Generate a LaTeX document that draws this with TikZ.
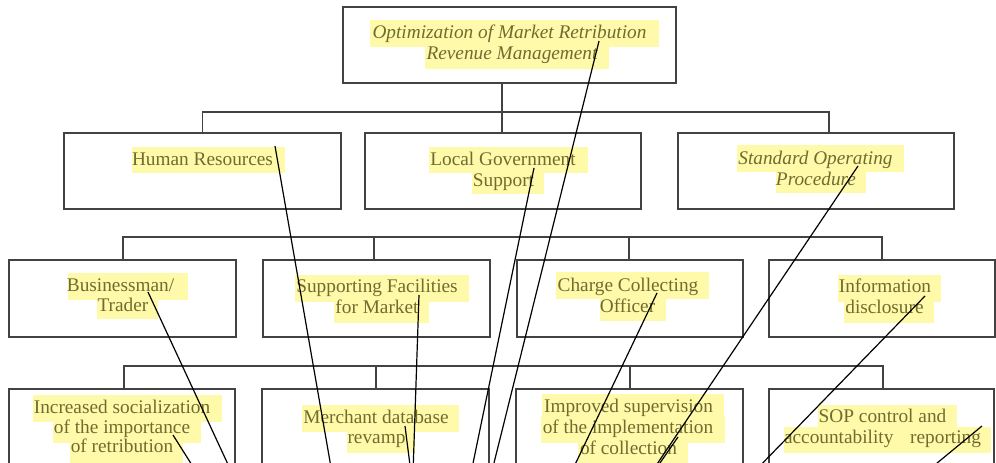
\documentclass[tikz,border=0pt]{standalone}
\usepackage{fontspec}
\setmainfont{Liberation Serif}
\definecolor{hl}{RGB}{255,249,170}
\definecolor{ink}{RGB}{112,108,48}
\definecolor{frame}{RGB}{66,66,66}
\tikzset{
  box/.style={draw=frame, line width=1.8pt, rectangle, inner sep=0pt, outer sep=0pt},
  bus/.style={draw=frame, line width=1.8pt},
  txt/.style={anchor=base, inner sep=0pt, text=ink, font=\fontsize{19.3pt}{21pt}\selectfont},
  itxt/.style={txt, font=\fontsize{19.3pt}{21pt}\selectfont\itshape},
  hlband/.style={fill=hl},
  callout/.style={draw=black, line width=1.2pt},
}
\begin{document}
\begin{tikzpicture}[x=1pt, y=-1pt]
\useasboundingbox (0,0) rectangle (996,463);
\clip (0,0) rectangle (996,463);

% ---------- highlight bands behind the text lines ----------
\fill[hlband] (370,20) rectangle (659,47);
\fill[hlband] (425,42) rectangle (609,69);
\fill[hlband] (132,147) rectangle (285,173);
\fill[hlband] (429,147) rectangle (588,173);
\fill[hlband] (472,167) rectangle (544,194);
\fill[hlband] (737,145) rectangle (904,172);
\fill[hlband] (776,167) rectangle (866,193);
\fill[hlband] (68,273) rectangle (188,300);
\fill[hlband] (97,293) rectangle (158,319);
\fill[hlband] (295,275) rectangle (469,302);
\fill[hlband] (334,295) rectangle (429,323);
\fill[hlband] (556,272) rectangle (709,299);
\fill[hlband] (600,294) rectangle (666,321);
\fill[hlband] (838,275) rectangle (941,302);
\fill[hlband] (844,296) rectangle (934,323);
\fill[hlband] (33,395) rectangle (222,422);
\fill[hlband] (53,416) rectangle (201,443);
\fill[hlband] (70,437) rectangle (183,470);
\fill[hlband] (302,405) rectangle (459,432);
\fill[hlband] (347,427) rectangle (415,453);
\fill[hlband] (542,394) rectangle (724,420);
\fill[hlband] (541,416) rectangle (725,443);
\fill[hlband] (578,437) rectangle (688,470);
\fill[hlband] (818,405) rectangle (957,432);
\fill[hlband] (784,427) rectangle (991,453);

% ---------- boxes ----------
\node[box, minimum width=333pt, minimum height=76pt] (title) at (509.5,45) {};
\node[box, minimum width=277pt, minimum height=76pt] (hr)  at (202.5,171) {};
\node[box, minimum width=276pt, minimum height=76pt] (lg)  at (503,171) {};
\node[box, minimum width=276pt, minimum height=76pt] (sop) at (816,171) {};
\node[box, minimum width=227pt, minimum height=77pt] (biz)  at (122.5,298.5) {};
\node[box, minimum width=227pt, minimum height=77pt] (sup)  at (376.5,298.5) {};
\node[box, minimum width=226pt, minimum height=77pt] (chg)  at (630,298.5) {};
\node[box, minimum width=226pt, minimum height=77pt] (info) at (882,298.5) {};
\node[box, minimum width=226pt, minimum height=77pt] (inc) at (122,427.5) {};
\node[box, minimum width=227pt, minimum height=77pt] (mer) at (375.5,427.5) {};
\node[box, minimum width=227pt, minimum height=77pt] (imp) at (629.5,427.5) {};
\node[box, minimum width=225pt, minimum height=77pt] (ctl) at (881.5,427.5) {};

% ---------- tree connectors ----------
\draw[bus] (hr.north) -- ++(0,-21) coordinate (busA) -| ([xshift=13pt]sop.north);
\draw[bus] ([xshift=-1pt]lg.north) -- ([xshift=-1pt]lg.north |- title.south);
\draw[bus] ([xshift=0.5pt]biz.north) -- ++(0,-23) coordinate (busB) -| (info.north);
\draw[bus] ([xshift=-2.5pt]sup.north) -- ([xshift=-2.5pt]sup.north |- busB);
\draw[bus] ([xshift=-1pt]chg.north) -- ([xshift=-1pt]chg.north |- busB);
\draw[bus] ([xshift=2pt]inc.north) -- ++(0,-23) coordinate (busC) -| ([xshift=1.5pt]ctl.north);
\draw[bus] ([xshift=0.5pt]mer.north) -- ([xshift=0.5pt]mer.north |- busC);
\draw[bus] ([xshift=0.5pt]imp.north) -- ([xshift=0.5pt]imp.north |- busC);

% ---------- text ----------
\node[itxt] (t1a) at (509.5,38) {Optimization of Market Retribution};
\node[itxt] (t1b) at (512,59) {Revenue Management};
\node[txt] (t2) at (202.5,165) {Human Resources};
\node[txt] (t3a) at (503,165) {Local Government};
\node[txt] (t3b) at (503.5,186) {Support};
\node[itxt] (t4a) at (815.5,164) {Standard Operating};
\node[itxt] (t4b) at (816,185) {Procedure};
\node[txt] (t5a) at (120.5,291) {Businessman/};
\node[txt] (t5b) at (123,311) {Trader};
\node[txt] (t6a) at (377,292) {Supporting Facilities};
\node[txt] (t6b) at (377,313) {for Market};
\node[txt] (t7a) at (628,291) {Charge Collecting};
\node[txt] (t7b) at (627.5,312) {Officer};
\node[txt] (t8a) at (885,292) {Information};
\node[txt] (t8b) at (884.5,313) {disclosure};
\node[txt] (t9a) at (122,413) {Increased socialization};
\node[txt] (t9b) at (122,433) {of the importance};
\node[txt] (t9c) at (122,452) {of retribution};
\node[txt] (t10a) at (376,423) {Merchant database};
\node[txt] (t10b) at (376.5,443) {revamp};
\node[txt] (t11a) at (628.5,412) {Improved supervision};
\node[txt] (t11b) at (628,433) {of the implementation};
\node[txt] (t11c) at (628.5,454) {of collection};
\node[txt] (t12a) at (882.5,422) {SOP control and};
\node[txt] (t12b) at (882.5,443) {accountability\hspace{12pt} reporting};

% ---------- callout leader lines ----------
\coordinate (p1) at (599,41);  \coordinate (q1) at (491.5,473);
\coordinate (p2) at (534,168); \coordinate (q2) at (471,473);
\coordinate (p3) at (275,146); \coordinate (q3) at (332,473);
\coordinate (p4) at (858,166); \coordinate (q4) at (651,473);
\coordinate (p5) at (148,292); \coordinate (q5) at (232,473);
\coordinate (p6) at (419,295); \coordinate (q6) at (413,473);
\coordinate (p7) at (657,293); \coordinate (q7) at (571,473);
\coordinate (p8) at (925,296); \coordinate (q8) at (753,473);
\coordinate (p9) at (173,435); \coordinate (q9) at (197,473);
\coordinate (p10) at (405,426); \coordinate (q10) at (411,473);
\coordinate (p11) at (678,437); \coordinate (q11) at (653,473);
\coordinate (p12) at (982,426); \coordinate (q12) at (925,473);
\foreach \i in {1,...,12} \draw[callout] (p\i) -- (q\i);
\end{tikzpicture}
\end{document}
